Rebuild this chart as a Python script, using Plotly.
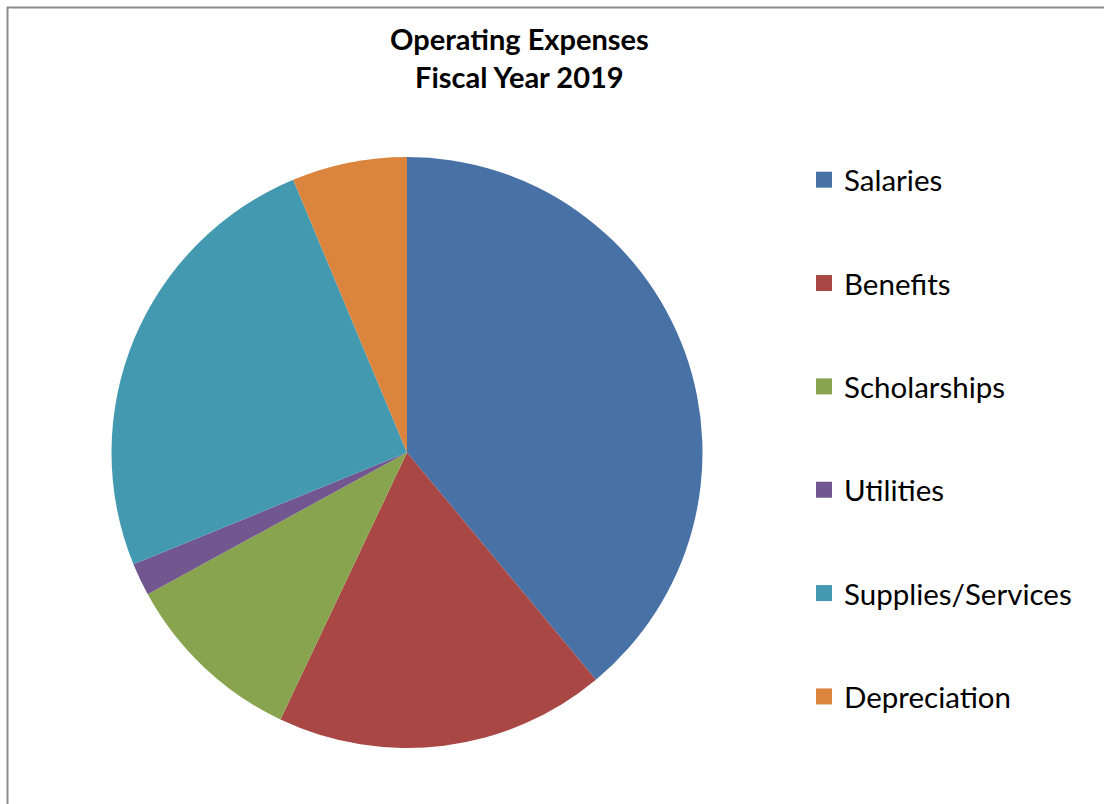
import plotly.graph_objects as go

categories = ["Salaries", "Benefits", "Scholarships", "Utilities", "Supplies/Services", "Depreciation"]
values = [39.0, 18.1, 10.0, 1.8, 24.9, 6.3]
colors = ["#4871A5", "#A84744", "#88A44E", "#71568F", "#4399AF", "#DA843E"]
title_lines = ["Operating Expenses", "Fiscal Year 2019"]

W, H = 1104, 804

fig = go.Figure()
fig.add_trace(go.Pie(
    labels=categories, values=values, sort=False, direction="clockwise", rotation=0,
    marker=dict(colors=colors, line=dict(width=0)),
    textinfo="none", showlegend=False,
    domain=dict(x=[111 / W, 703 / W], y=[(H - 748) / H, (H - 157) / H]),
))

for i, (c, col) in enumerate(zip(categories, colors)):
    fig.add_trace(go.Scatter(
        x=[None], y=[None], mode="markers", name=c,
        marker=dict(symbol="square", size=16, color=col),
        legendgroup=f"g{i}", showlegend=True,
    ))

fig.update_layout(
    width=W, height=H,
    margin=dict(l=0, r=0, t=0, b=0),
    paper_bgcolor="white", plot_bgcolor="white",
    xaxis=dict(visible=False), yaxis=dict(visible=False),
    font=dict(family="Lato, 'Open Sans', sans-serif", color="#000000"),
    legend=dict(
        x=804 / W, y=1 - 154 / H, xanchor="left", yanchor="top",
        traceorder="grouped", tracegroupgap=62,
        font=dict(size=29.5, family="Lato, sans-serif", color="#000000"),
        bgcolor="rgba(0,0,0,0)",
    ),
    annotations=[dict(
        text="<b>" + "<br>".join(title_lines) + "</b>",
        x=519 / W, y=1 - 57 / H, xref="paper", yref="paper",
        xanchor="center", yanchor="middle", showarrow=False,
        font=dict(size=29, family="Lato, sans-serif", color="#000000"),
    )],
    shapes=[
        dict(type="line", xref="paper", yref="paper", x0=7 / W, x1=1, y0=1 - 7.5 / H, y1=1 - 7.5 / H,
             line=dict(color="#8C8C8C", width=2)),
        dict(type="line", xref="paper", yref="paper", x0=7.5 / W, x1=7.5 / W, y0=0, y1=1 - 7 / H,
             line=dict(color="#8C8C8C", width=2)),
    ],
)

fig.write_html("out.html", config={"displayModeBar": False},
               post_script="document.body.style.margin='0';")
